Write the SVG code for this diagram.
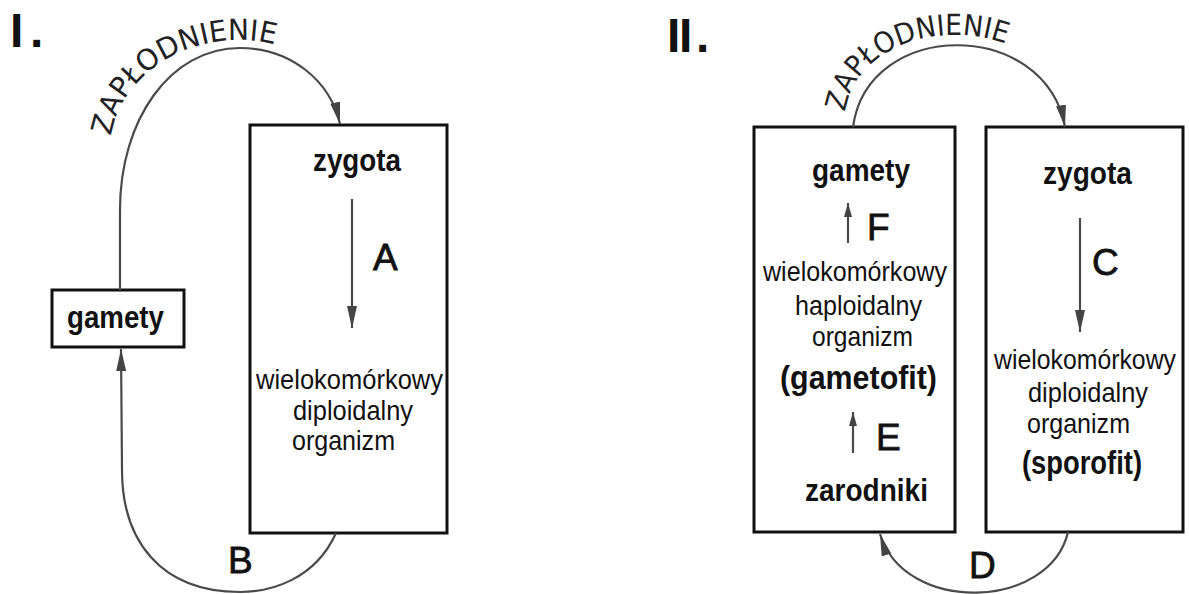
<svg xmlns="http://www.w3.org/2000/svg" width="1189" height="594" viewBox="0 0 1189 594">
<defs>
<style>
.box{fill:#fff;stroke:#111;stroke-width:3}
.con{fill:none;stroke:#4a4a4a;stroke-width:2.2}
.b{font-family:"Liberation Sans",Arial,sans-serif;font-weight:700;font-size:31px;fill:#111}
.r{font-family:"Liberation Sans",Arial,sans-serif;font-size:28px;fill:#111}
.let{font-family:"Liberation Sans",Arial,sans-serif;font-size:37px;fill:#111;stroke:#111;stroke-width:0.8}
.num{font-family:"Liberation Sans",Arial,sans-serif;font-weight:700;font-size:48px;fill:#111}
.arc{font-family:"DejaVu Sans Condensed","DejaVu Sans",sans-serif;font-stretch:condensed;font-size:29px;fill:#222}
</style>
<marker id="ah" markerUnits="userSpaceOnUse" markerWidth="24" markerHeight="14" refX="22" refY="6" orient="auto">
<path d="M0,1 L22,6 L0,11 Z" fill="#444"/>
</marker>
<marker id="ahs" markerUnits="userSpaceOnUse" markerWidth="16" markerHeight="12" refX="14" refY="5" orient="auto">
<path d="M0,1 L14,5 L0,9 Z" fill="#444"/>
</marker>
<path id="tp1" d="M111,136 C120,80 175,40 240,40 C258,40 275,43 292,51"/>
<path id="tp2" d="M845,112 C862,8 1052,8 1075,120"/>
</defs>

<g id="labels">
<text class="num"><tspan x="10" y="47">I</tspan><tspan x="30" y="47">.</tspan></text>
<text class="num"><tspan x="667" y="52">I</tspan><tspan x="679" y="52">I</tspan><tspan x="696" y="52">.</tspan></text>
</g>

<g id="gamety1">
<rect class="box" x="52" y="290" width="132" height="57"/>
<text class="b" x="67" y="328" textLength="97" lengthAdjust="spacingAndGlyphs">gamety</text>
</g>

<g id="zygota1">
<rect class="box" x="250" y="125" width="197" height="408"/>
<text class="b" x="313" y="171" textLength="88" lengthAdjust="spacingAndGlyphs">zygota</text>
<text class="r" x="256" y="389" textLength="187" lengthAdjust="spacingAndGlyphs">wielokomórkowy</text>
<text class="r" x="293" y="420" textLength="120" lengthAdjust="spacingAndGlyphs">diploidalny</text>
<text class="r" x="292" y="450" textLength="103" lengthAdjust="spacingAndGlyphs">organizm</text>
</g>

<g id="gametofit">
<rect class="box" x="754" y="127" width="201" height="405"/>
<text class="b" x="812" y="181" textLength="98" lengthAdjust="spacingAndGlyphs">gamety</text>
<text class="r" x="763" y="281" textLength="184" lengthAdjust="spacingAndGlyphs">wielokomórkowy</text>
<text class="r" x="795" y="315" textLength="127" lengthAdjust="spacingAndGlyphs">haploidalny</text>
<text class="r" x="812" y="346" textLength="101" lengthAdjust="spacingAndGlyphs">organizm</text>
<text class="b" x="780" y="389" style="font-size:33px" textLength="157" lengthAdjust="spacingAndGlyphs">(gametofit)</text>
<text class="b" x="805" y="501" textLength="123" lengthAdjust="spacingAndGlyphs">zarodniki</text>
</g>

<g id="sporofit">
<rect class="box" x="986" y="127" width="197" height="405"/>
<text class="b" x="1043" y="184" textLength="89" lengthAdjust="spacingAndGlyphs">zygota</text>
<text class="r" x="994" y="369" textLength="182" lengthAdjust="spacingAndGlyphs">wielokomórkowy</text>
<text class="r" x="1028" y="402" textLength="120" lengthAdjust="spacingAndGlyphs">diploidalny</text>
<text class="r" x="1027" y="433" textLength="103" lengthAdjust="spacingAndGlyphs">organizm</text>
<text class="b" x="1022" y="474" style="font-size:33px" textLength="120" lengthAdjust="spacingAndGlyphs">(sporofit)</text>
</g>

<g id="connectors">
<path class="con" d="M120,290 L120,210 C120,120 170,48 240,48 C290,48 330,80 340,124" marker-end="url(#ah)"/>
<path class="con" d="M336,533 C315,580 270,592 240,592 C160,592 122,540 122,470 L121,349" marker-end="url(#ah)"/>
<path class="con" d="M352,199 L352,328" marker-end="url(#ah)"/>
<path class="con" d="M853,127 C868,18 1045,18 1065,127" marker-end="url(#ah)"/>
<path class="con" d="M1068,532 C1050,610 905,615 880,534" marker-end="url(#ah)"/>
<path class="con" d="M1080,218 L1080,332" marker-end="url(#ah)"/>
<path class="con" d="M848,243 L848,203" marker-end="url(#ahs)"/>
<path class="con" d="M853,453 L853,412" marker-end="url(#ahs)"/>
<text class="arc"><textPath href="#tp1" textLength="210" lengthAdjust="spacingAndGlyphs">ZAPŁODNIENIE</textPath></text>
<text class="arc"><textPath href="#tp2" textLength="198" lengthAdjust="spacingAndGlyphs">ZAPŁODNIENIE</textPath></text>
<text class="let" x="373" y="270">A</text>
<text class="let" x="228" y="573">B</text>
<text class="let" x="1092" y="275">C</text>
<text class="let" x="969" y="578">D</text>
<text class="let" x="876" y="450">E</text>
<text class="let" x="867" y="240">F</text>
</g>
</svg>
